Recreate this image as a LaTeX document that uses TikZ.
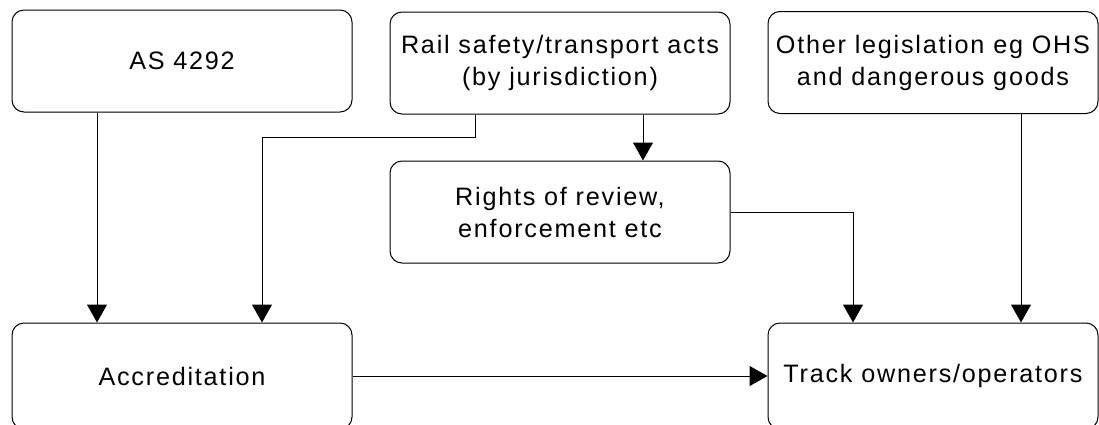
\documentclass[tikz,border=0pt]{standalone}
\usepackage{fontspec}
\setmainfont{Liberation Sans}[LetterSpace=7]
\usetikzlibrary{arrows.meta}

\begin{document}
\begin{tikzpicture}[x=0.5pt,y=-0.5pt,
	box/.style={draw,rounded corners=6pt,line width=0.5pt,minimum width=170pt,minimum height=51pt,align=center,inner sep=0pt,font=\fontsize{12.6}{16}\selectfont},
	arr/.style={line width=0.5pt,-{Triangle[width=10pt,length=9pt]}}]
				\useasboundingbox (0,0) rectangle (1099,424);
				
				\node[box] (as) at (182,61) {AS 4292};
				\node[box] (rail) at (560,63) {Rail safety/transport acts\\(by jurisdiction)};
				\node[box,minimum width=165pt] (other) at (933,62.5) {Other legislation eg OHS\\and dangerous goods};
				\node[box] (rights) at (560,212) {Rights of review,\\enforcement etc};
				\node[box,minimum height=53pt] (accr) at (182,376) {Accreditation};
				\node[box,minimum width=165pt,minimum height=53pt] (track) at (933,376) {Track owners/operators};
				
				\draw[arr] (as.south -| 97,0) -- (accr.north -| 97,0);
				\draw[arr] (rail.south -| 475,0) |- (262,137) -- (accr.north -| 262,0);
				\draw[arr] (rail.south -| 643,0) -- (rights.north -| 643,0);
				\draw[arr] (rights.east) -| (track.north -| 853,0);
				\draw[arr] (other.south -| 1021,0) -- (track.north -| 1021,0);
				\draw[arr] (accr.east) -- (track.west);
\end{tikzpicture}
\end{document}
